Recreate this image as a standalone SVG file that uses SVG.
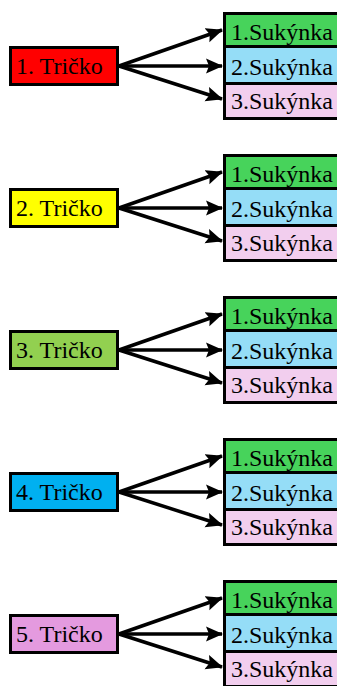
<svg xmlns="http://www.w3.org/2000/svg" width="337" height="686" viewBox="0 0 337 686">
<style>
.b{stroke:#000;stroke-width:3}
.t{font-family:"Liberation Serif","Times New Roman",serif;font-size:24px;fill:#000}
.c{stroke:#000;stroke-width:3.5;fill:none}
.g1{fill:#47D35B}.g2{fill:#95DDF7}.g3{fill:#F2CEEE}
</style>
<defs>
<marker id="ah" markerUnits="userSpaceOnUse" markerWidth="18" markerHeight="16" refX="16" refY="8" orient="auto">
<path d="M0,0.5 L17,8 L0,15.5 L3,8 Z" fill="#000"/>
</marker>
</defs>
<g id="connectors">
<g transform="translate(0,0)">
<line class="c" x1="119" y1="66" x2="222" y2="30" marker-end="url(#ah)"/>
<line class="c" x1="119" y1="66" x2="222" y2="66" marker-end="url(#ah)"/>
<line class="c" x1="119" y1="66" x2="222" y2="99" marker-end="url(#ah)"/>
</g>
<g transform="translate(0,142)">
<line class="c" x1="119" y1="66" x2="222" y2="30" marker-end="url(#ah)"/>
<line class="c" x1="119" y1="66" x2="222" y2="66" marker-end="url(#ah)"/>
<line class="c" x1="119" y1="66" x2="222" y2="99" marker-end="url(#ah)"/>
</g>
<g transform="translate(0,284)">
<line class="c" x1="119" y1="66" x2="222" y2="30" marker-end="url(#ah)"/>
<line class="c" x1="119" y1="66" x2="222" y2="66" marker-end="url(#ah)"/>
<line class="c" x1="119" y1="66" x2="222" y2="99" marker-end="url(#ah)"/>
</g>
<g transform="translate(0,426)">
<line class="c" x1="119" y1="66" x2="222" y2="30" marker-end="url(#ah)"/>
<line class="c" x1="119" y1="66" x2="222" y2="66" marker-end="url(#ah)"/>
<line class="c" x1="119" y1="66" x2="222" y2="99" marker-end="url(#ah)"/>
</g>
<g transform="translate(0,568)">
<line class="c" x1="119" y1="66" x2="222" y2="30" marker-end="url(#ah)"/>
<line class="c" x1="119" y1="66" x2="222" y2="66" marker-end="url(#ah)"/>
<line class="c" x1="119" y1="66" x2="222" y2="99" marker-end="url(#ah)"/>
</g>
</g>

<g id="tricko1"><rect class="b" x="10.5" y="47.5" width="107" height="37" fill="#FF0000"/><text class="t" x="16" y="74">1. Tričko</text></g>
<g id="tricko2"><rect class="b" x="10.5" y="189.5" width="107" height="37" fill="#FFFF00"/><text class="t" x="16" y="216">2. Tričko</text></g>
<g id="tricko3"><rect class="b" x="10.5" y="331.5" width="107" height="37" fill="#92D050"/><text class="t" x="16" y="358">3. Tričko</text></g>
<g id="tricko4"><rect class="b" x="10.5" y="473.5" width="107" height="37" fill="#00B0F0"/><text class="t" x="16" y="500">4. Tričko</text></g>
<g id="tricko5"><rect class="b" x="10.5" y="615.5" width="107" height="37" fill="#E49ADF"/><text class="t" x="16" y="642">5. Tričko</text></g>

<g id="sukynky1">
<rect class="b g1" x="224.5" y="13.5" width="130" height="33"/><text class="t" x="231" y="40">1.Sukýnka</text>
<rect class="b g2" x="224.5" y="46.5" width="130" height="37"/><text class="t" x="231" y="75">2.Sukýnka</text>
<rect class="b g3" x="224.5" y="83.5" width="130" height="35"/><text class="t" x="231" y="109">3.Sukýnka</text>
</g>
<g id="sukynky2">
<rect class="b g1" x="224.5" y="155.5" width="130" height="33"/><text class="t" x="231" y="182">1.Sukýnka</text>
<rect class="b g2" x="224.5" y="188.5" width="130" height="37"/><text class="t" x="231" y="217">2.Sukýnka</text>
<rect class="b g3" x="224.5" y="225.5" width="130" height="35"/><text class="t" x="231" y="251">3.Sukýnka</text>
</g>
<g id="sukynky3">
<rect class="b g1" x="224.5" y="297.5" width="130" height="33"/><text class="t" x="231" y="324">1.Sukýnka</text>
<rect class="b g2" x="224.5" y="330.5" width="130" height="37"/><text class="t" x="231" y="359">2.Sukýnka</text>
<rect class="b g3" x="224.5" y="367.5" width="130" height="35"/><text class="t" x="231" y="393">3.Sukýnka</text>
</g>
<g id="sukynky4">
<rect class="b g1" x="224.5" y="439.5" width="130" height="33"/><text class="t" x="231" y="466">1.Sukýnka</text>
<rect class="b g2" x="224.5" y="472.5" width="130" height="37"/><text class="t" x="231" y="501">2.Sukýnka</text>
<rect class="b g3" x="224.5" y="509.5" width="130" height="35"/><text class="t" x="231" y="535">3.Sukýnka</text>
</g>
<g id="sukynky5">
<rect class="b g1" x="224.5" y="581.5" width="130" height="33"/><text class="t" x="231" y="608">1.Sukýnka</text>
<rect class="b g2" x="224.5" y="614.5" width="130" height="37"/><text class="t" x="231" y="643">2.Sukýnka</text>
<rect class="b g3" x="224.5" y="651.5" width="130" height="35"/><text class="t" x="231" y="677">3.Sukýnka</text>
</g>
</svg>
